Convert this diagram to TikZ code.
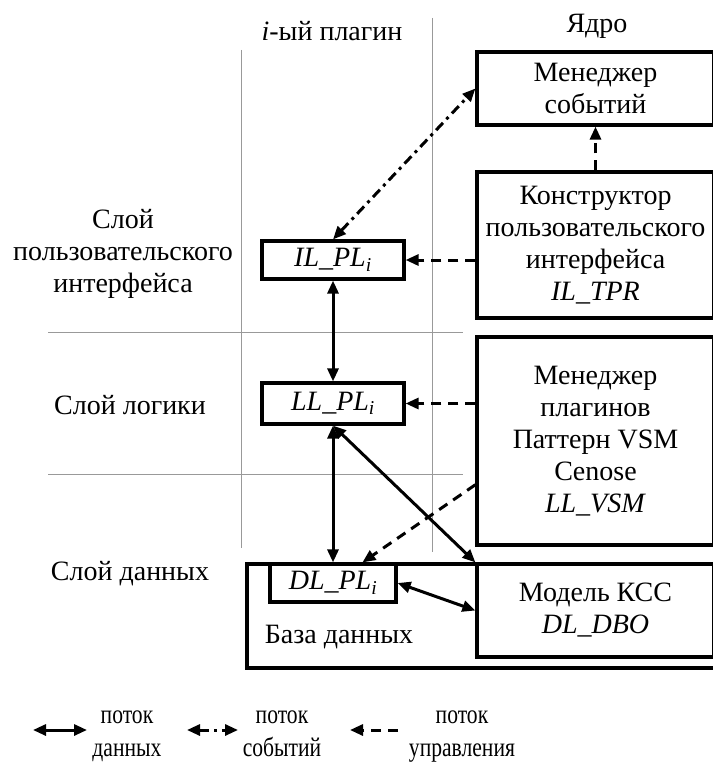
\documentclass[tikz,border=0pt]{standalone}
\usepackage{fontspec}
\setmainfont{Liberation Serif}
\usetikzlibrary{arrows.meta}
\newcommand{\lgx}[1]{\scalebox{0.8}[1]{#1}}
\begin{document}
\begin{tikzpicture}[x=1pt,y=-1pt,
  every node/.style={font=\fontsize{28}{32}\selectfont, inner sep=0pt, align=center},
  blk/.style={draw, line width=3.2pt},
  grid/.style={draw=gray!80, line width=0.8pt},
  tip/.style={line width=3pt, -{Triangle[length=13pt,width=11pt]}},
  dtip/.style={line width=3pt, {Triangle[length=13pt,width=11pt]}-{Triangle[length=13pt,width=11pt]}},
  ctrl/.style={dash pattern=on 10pt off 7pt},
  evt/.style={dash pattern=on 10pt off 5pt on 3pt off 5pt},
  leg/.style={font=\fontsize{27}{33}\selectfont, anchor=north}
]
\useasboundingbox (0,0) rectangle (712,762);
% layer grid
\draw[grid] (241,50) -- (241,548);
\draw[grid] (432,18) -- (432,552);
\draw[grid] (48,332) -- (463,332);
\draw[grid] (48,474) -- (463,474);
% headers
\node[anchor=base] (hplug) at (332,41) {\textit{i}-ый плагин};
\node[anchor=base] (hcore) at (597,33) {Ядро};
% layer labels
\node (lui) at (123,254) {Слой\\пользовательского\\интерфейса};
\node (llog) at (130,405) {Слой логики};
\node (ldat) at (130,574) {Слой данных};
% core boxes
\node[blk, minimum width=237pt, minimum height=73pt] (evm) at (595.5,88.5) {Менеджер\\событий};
\node[blk, minimum width=237pt, minimum height=146pt] (con) at (595.5,245) {Конструктор\\пользовательского\\интерфейса\\\textit{IL\_TPR}};
\node[blk, minimum width=237pt, minimum height=208pt] (pm) at (595.5,441) {Менеджер\\плагинов\\Паттерн VSM\\Cenose\\\textit{LL\_VSM}};
% database
\node[blk, minimum width=469pt, minimum height=104pt] (db) at (481.5,616) {};
\node (dbl) at (339,637) {База данных};
\node[blk, minimum width=237pt, minimum height=93pt] (kss) at (595.5,610.5) {Модель КСС\\\textit{DL\_DBO}};
% plugin boxes
\node[blk, minimum width=142pt, minimum height=38pt] (ilpl) at (333,260) {\textit{IL\_PL}\textsubscript{\textit{i}}};
\node[blk, minimum width=142pt, minimum height=41pt] (llpl) at (333,403.5) {\textit{LL\_PL}\textsubscript{\textit{i}}};
\node[blk, minimum width=126pt, minimum height=38pt] (dlpl) at (333,583) {\textit{DL\_PL}\textsubscript{\textit{i}}};
% connectors
\draw[tip, ctrl] (con.north) -- (evm.south);
\draw[tip, ctrl] (con.west |- ilpl.east) -- (ilpl.east);
\draw[tip, ctrl] (pm.west |- llpl.east) -- (llpl.east);
\draw[tip, ctrl] (pm.200) -- (dlpl.35);
\draw[dtip, evt] (ilpl.north) -- (evm.west);
\draw[dtip] (ilpl.south) -- (llpl.north);
\draw[dtip] (llpl.south) -- (dlpl.north);
\draw[dtip] (llpl.south) -- (kss.north west);
\draw[dtip] (dlpl.east) -- (kss.west);
% legend
\coordinate (a1) at (33,730); \coordinate (b1) at (87,730);
\coordinate (a2) at (187,730); \coordinate (b2) at (238,730);
\coordinate (a3) at (350,730); \coordinate (b3) at (398,730);
\draw[dtip] (a1) -- (b1);
\draw[dtip, evt] (a2) -- (b2);
\draw[tip, ctrl] (b3) -- (a3);
\node[leg] (t1) at (127,711) {\lgx{поток}\\\lgx{данных}};
\node[leg] (t2) at (282,711) {\lgx{поток}\\\lgx{событий}};
\node[leg] (t3) at (462,711) {\lgx{поток}\\\lgx{управления}};
\end{tikzpicture}
\end{document}
